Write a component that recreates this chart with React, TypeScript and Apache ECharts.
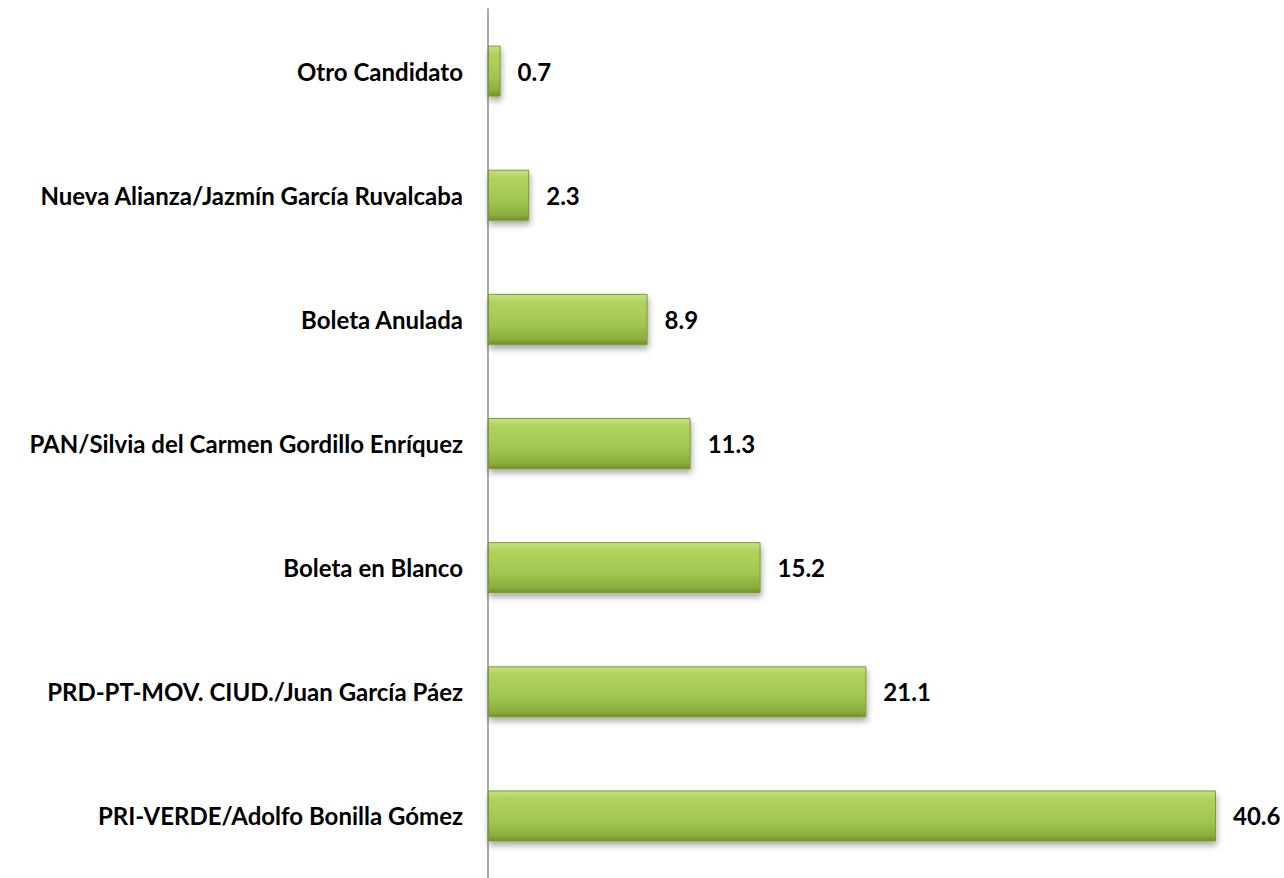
import React, { useEffect, useRef } from "react";
import * as echarts from "echarts";

const categories = [
  "PRI-VERDE/Adolfo Bonilla Gómez",
  "PRD-PT-MOV. CIUD./Juan García Páez",
  "Boleta en Blanco",
  "PAN/Silvia del Carmen Gordillo Enríquez",
  "Boleta Anulada",
  "Nueva Alianza/Jazmín García Ruvalcaba",
  "Otro Candidato",
];
const values = [40.6, 21.1, 15.2, 11.3, 8.9, 2.3, 0.7];

export default function App() {
  const ref = useRef<HTMLDivElement>(null);
  useEffect(() => {
    const chart = echarts.init(ref.current!, null, { renderer: "svg" });
    chart.setOption({
      animation: false,
      grid: { left: 488, top: 9, width: 789, height: 874, containLabel: false },
      xAxis: {
        type: "value",
        min: 0,
        max: 44,
        show: false,
      },
      yAxis: {
        type: "category",
        data: categories,
        axisLine: { show: true, lineStyle: { color: "#8c8c8c", width: 1.5 } },
        axisTick: { show: false },
        axisLabel: {
          margin: 25,
          color: "#000",
          fontFamily: "Lato, 'Open Sans', sans-serif",
          fontWeight: "bold",
          fontSize: 24,
        },
      },
      series: [
        {
          type: "bar",
          data: values,
          barWidth: 51,
          itemStyle: {
            color: new echarts.graphic.LinearGradient(0, 0, 0, 1, [
              { offset: 0, color: "#c6e283" },
              { offset: 0.15, color: "#b0d35e" },
              { offset: 0.6, color: "#a2c74f" },
              { offset: 0.9, color: "#8aad3c" },
              { offset: 1, color: "#6f8f2c" },
            ]),
            borderColor: "#7a9a33",
            borderWidth: 1,
            shadowColor: "rgba(0,0,0,0.35)",
            shadowBlur: 6,
            shadowOffsetY: 4,
            shadowOffsetX: 1,
          },
          label: {
            show: true,
            position: "right",
            distance: 17,
            color: "#000",
            fontFamily: "Lato, 'Open Sans', sans-serif",
            fontWeight: "bold",
            fontSize: 24,
            formatter: (p: any) => p.value.toFixed(1),
          },
        },
      ],
    });
    return () => chart.dispose();
  }, []);
  return (
    <div
      ref={ref}
      style={{ position: "fixed", left: 0, top: 0, width: 1284, height: 878, background: "#fff" }}
    />
  );
}
